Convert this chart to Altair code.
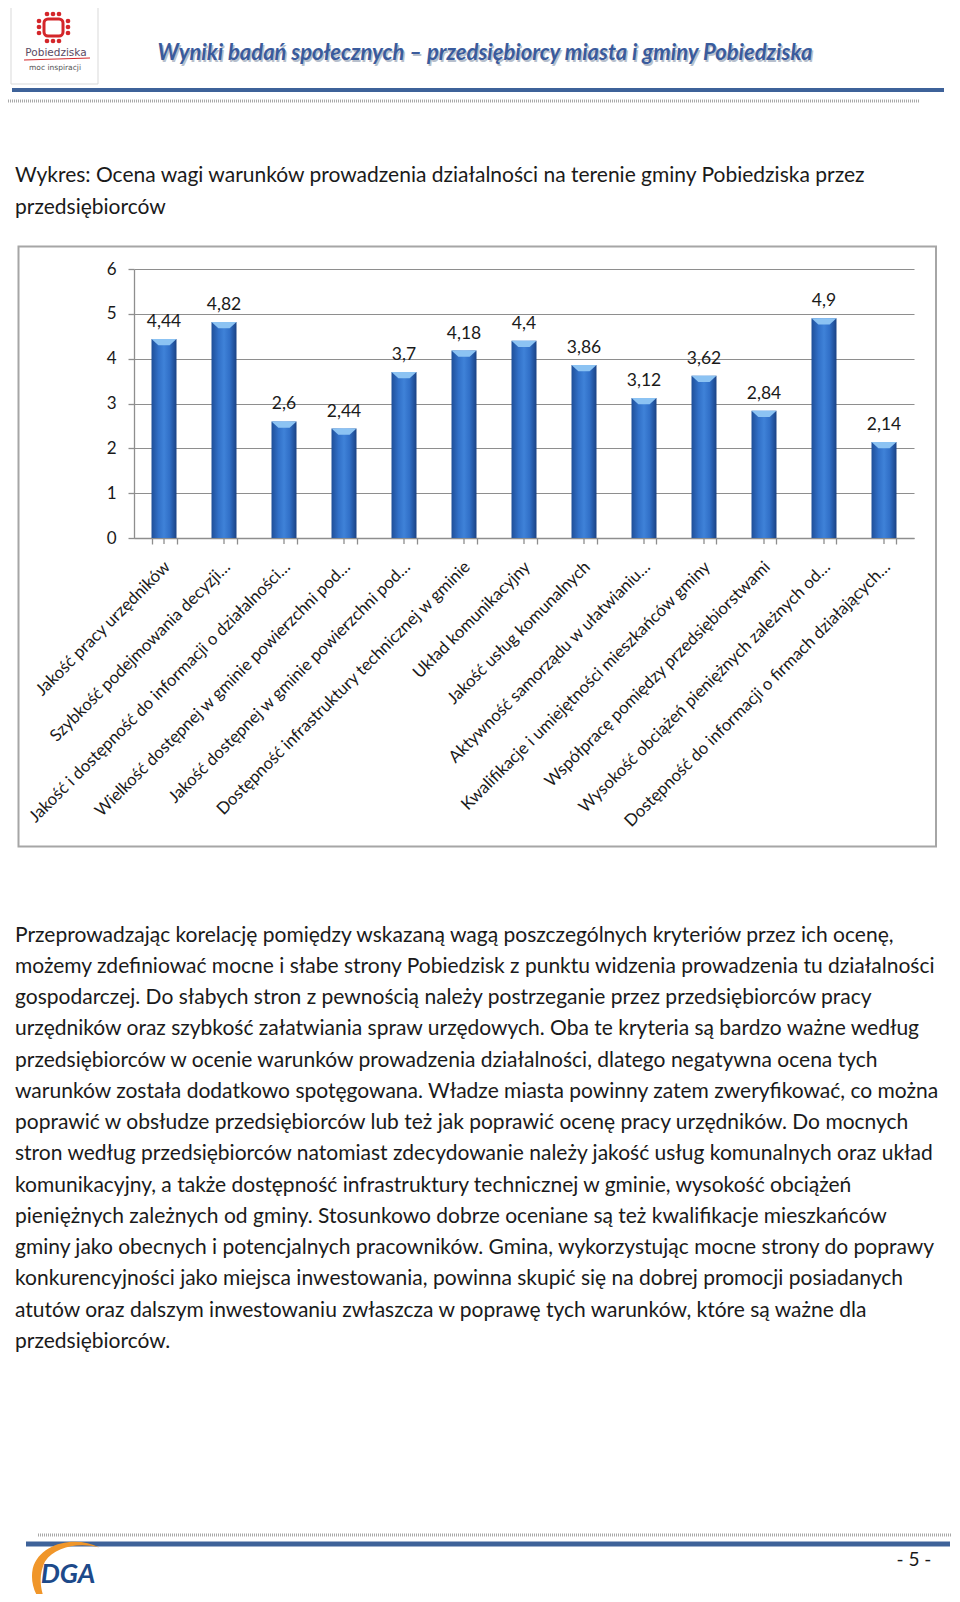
import altair as alt
import pandas as pd

# ---------------- data ----------------
categories = [
    "Jakość pracy urzędników",
    "Szybkość podejmowania decyzji…",
    "Jakość i dostępność do informacji o działalności…",
    "Wielkość dostępnej w gminie powierzchni pod…",
    "Jakość dostępnej w gminie powierzchni pod…",
    "Dostępność infrastruktury technicznej w gminie",
    "Układ komunikacyjny",
    "Jakość usług komunalnych",
    "Aktywność samorządu w ułatwianiu…",
    "Kwalifikacje i umiejętności mieszkańców gminy",
    "Współpracę pomiędzy przedsiębiorstwami",
    "Wysokość obciążeń pieniężnych zależnych od…",
    "Dostępność do informacji o firmach działających…",
]
values = [4.44, 4.82, 2.6, 2.44, 3.7, 4.18, 4.4, 3.86, 3.12, 3.62, 2.84, 4.9, 2.14]
y_ticks = [0, 1, 2, 3, 4, 5, 6]

header_title = "Wyniki badań społecznych – przedsiębiorcy miasta i gminy Pobiedziska"
chart_title = [
    "Wykres: Ocena wagi warunków prowadzenia działalności na terenie gminy Pobiedziska przez",
    "przedsiębiorców",
]
paragraph = [
    "Przeprowadzając korelację pomiędzy wskazaną wagą poszczególnych kryteriów przez ich ocenę,",
    "możemy zdefiniować mocne i słabe strony Pobiedzisk z punktu widzenia prowadzenia tu działalności",
    "gospodarczej. Do słabych stron z pewnością należy postrzeganie przez przedsiębiorców pracy",
    "urzędników oraz szybkość załatwiania spraw urzędowych. Oba te kryteria są bardzo ważne według",
    "przedsiębiorców w ocenie warunków prowadzenia działalności, dlatego negatywna ocena tych",
    "warunków została dodatkowo spotęgowana. Władze miasta powinny zatem zweryfikować, co można",
    "poprawić w obsłudze przedsiębiorców lub też jak poprawić ocenę pracy urzędników. Do mocnych",
    "stron według przedsiębiorców natomiast zdecydowanie należy jakość usług komunalnych oraz układ",
    "komunikacyjny, a także dostępność infrastruktury technicznej w gminie, wysokość obciążeń",
    "pieniężnych zależnych od gminy. Stosunkowo dobrze oceniane są też kwalifikacje mieszkańców",
    "gminy jako obecnych i potencjalnych pracowników. Gmina, wykorzystując mocne strony do poprawy",
    "konkurencyjności jako miejsca inwestowania, powinna skupić się na dobrej promocji posiadanych",
    "atutów oraz dalszym inwestowaniu zwłaszcza w poprawę tych warunków, które są ważne dla",
    "przedsiębiorców.",
]
page_number = "- 5 -"

df = pd.DataFrame({"kategoria": categories, "ocena": values})
dummy = pd.DataFrame({"d": [0]})

FONT = "Lato"
GRID = "#8e8e8e"
TXT = "#1a1a1a"

# ---------------- main chart ----------------
x_enc = alt.X(
    "kategoria:N",
    sort=categories,
    scale=alt.Scale(paddingInner=0.5833, paddingOuter=0.2917),
    axis=alt.Axis(
        title=None, labelAngle=-45, labelAlign="right", labelBaseline="middle",
        labelFont=FONT, labelFontSize=16.8, labelColor=TXT, labelLimit=800,
        labelPadding=20, labelOffset=3, tickBand="extent", tickSize=6,
        tickColor=GRID, tickWidth=1.3, domainColor=GRID, domainWidth=1.3, grid=False,
    ),
)
y_enc = alt.Y(
    "ocena:Q",
    scale=alt.Scale(domain=[0, 6], nice=False, zero=True),
    axis=alt.Axis(
        title=None, values=y_ticks, format="d", labelFont=FONT, labelFontSize=17,
        labelColor=TXT, labelPadding=12, tickSize=6, tickColor=GRID, tickWidth=1.3,
        domainColor=GRID, domainWidth=1.3, gridColor=GRID, gridWidth=1.2,
    ),
)

bar_fill = alt.Gradient(
    gradient="linear",
    stops=[
        alt.GradientStop(color="#1f4f98", offset=0),
        alt.GradientStop(color="#3170c8", offset=0.28),
        alt.GradientStop(color="#3f82d8", offset=0.5),
        alt.GradientStop(color="#3170c8", offset=0.72),
        alt.GradientStop(color="#1a4284", offset=1),
    ],
    x1=0, x2=1, y1=0, y2=0,
)

base = alt.Chart(df)
bars = base.mark_bar(color=bar_fill).encode(x=x_enc, y=y_enc)
caps = base.mark_point(
    shape="M-1,0 L1,0 L0.45,0.5 L-0.45,0.5 Z", size=625, filled=True,
    color="#8cc3f3", opacity=1, strokeWidth=0,
).encode(x=x_enc, y=y_enc)
mid_ticks = base.mark_rule(color=GRID, strokeWidth=1.3).encode(
    x=x_enc, y=alt.value(269), y2=alt.value(275)
)
labels = base.transform_calculate(
    etykieta="replace(toString(datum.ocena), '.', ',')"
).mark_text(
    dy=-12, baseline="alphabetic", font=FONT, fontSize=17.5, color=TXT
).encode(x=x_enc, y=y_enc, text="etykieta:N")


# ---------------- page decoration helpers ----------------
def txt(s, x, y, **kw):
    return alt.Chart(dummy).mark_text(text=s, **kw).encode(x=alt.value(x), y=alt.value(y))


def rule(x1, x2, y1, y2, **kw):
    return alt.Chart(dummy).mark_rule(**kw).encode(
        x=alt.value(x1), x2=alt.value(x2), y=alt.value(y1), y2=alt.value(y2)
    )


def box(x1, x2, y1, y2, **kw):
    return alt.Chart(dummy).mark_rect(**kw).encode(
        x=alt.value(x1), x2=alt.value(x2), y=alt.value(y1), y2=alt.value(y2)
    )


def dot(x, y, **kw):
    return alt.Chart(dummy).mark_circle(**kw).encode(x=alt.value(x), y=alt.value(y))


deco = []
# chart frame
deco.append(box(-115.5, 802, -22.5, 577.5, fillOpacity=0, stroke="#a6a6a6", strokeWidth=2))

# header logo
RED = "#d4262a"
deco.append(box(-123, -36, -267, -185, fillOpacity=0, stroke="#d9d9d9", strokeWidth=1))
for dx in (-87, -81, -75):
    deco.append(dot(dx, -255, size=22, color=RED, opacity=1))
    deco.append(dot(dx, -228, size=22, color=RED, opacity=1))
for dy in (-248, -242, -236):
    deco.append(dot(-95, dy, size=22, color=RED, opacity=1))
    deco.append(dot(-66, dy, size=22, color=RED, opacity=1))
deco.append(box(-90, -71, -250, -233, fillOpacity=0, stroke=RED, strokeWidth=3, cornerRadius=4))
deco.append(txt("Pobiedziska", -78, -216, font="DejaVu Sans", fontSize=10.5, color="#5b4a63"))
deco.append(rule(-110, -44, -209, -211, color=RED, strokeWidth=1.2))
deco.append(txt("moc inspiracji", -79, -201, font="DejaVu Sans", fontSize=7.5, color="#555555"))

# header title with shadow
deco.append(txt(header_title, 352.5, -214.5, font=FONT, fontSize=22, fontWeight="bold",
                 fontStyle="italic", color="#b7bfcc"))
deco.append(txt(header_title, 351, -216, font=FONT, fontSize=22, fontWeight="bold",
                fontStyle="italic", color="#3a5b9c"))
deco.append(rule(-122, 810, -179, -179, color="#3e6299", strokeWidth=4))
deco.append(rule(-126, 786, -168, -168, color="#a8a8a8", strokeWidth=3, strokeDash=[1, 1]))

# chart title
for i, line in enumerate(chart_title):
    deco.append(txt(line, -119, -93 + i * 31.5, font=FONT, fontSize=21, color=TXT,
                    align="left", baseline="middle"))

# paragraph
for i, line in enumerate(paragraph):
    deco.append(txt(line, -119, 666.5 + i * 31.25, font=FONT, fontSize=21, color=TXT,
                    align="left", baseline="middle"))

# footer
deco.append(rule(-96, 818, 1266, 1266, color="#a8a8a8", strokeWidth=3, strokeDash=[1, 1]))
deco.append(rule(-108, 816, 1275, 1275, color="#3e6299", strokeWidth=5))
deco.append(txt(page_number, 780, 1290.5, font=FONT, fontSize=19, color=TXT, baseline="middle"))
deco.append(alt.Chart(dummy).mark_point(
    shape="M0.95,-0.7 C0.3,-1.05 -0.75,-0.85 -0.95,-0.1 C-1.05,0.4 -0.8,0.85 -0.5,1 "
          "C-0.75,0.6 -0.8,0.1 -0.6,-0.3 C-0.3,-0.75 0.4,-0.85 0.95,-0.7 Z",
    size=4900, filled=True, color="#f0962a", opacity=1, strokeWidth=0,
).encode(x=alt.value(-68), y=alt.value(1303)))
deco.append(txt("DGA", -66, 1306, font=FONT, fontSize=27, fontWeight="bold", fontStyle="italic",
                color="#1d4a8a", baseline="middle"))

chart = alt.layer(deco[0], bars, caps, mid_ticks, labels, *deco[1:]).properties(
    width=780,
    height=269,
    padding={"left": 126, "top": 261, "right": 38, "bottom": 1056},
    autosize=alt.AutoSizeParams(type="none"),
    background="white",
).configure_view(strokeWidth=0)

chart.save("out.html", embed_options={"renderer": "svg", "actions": False})
